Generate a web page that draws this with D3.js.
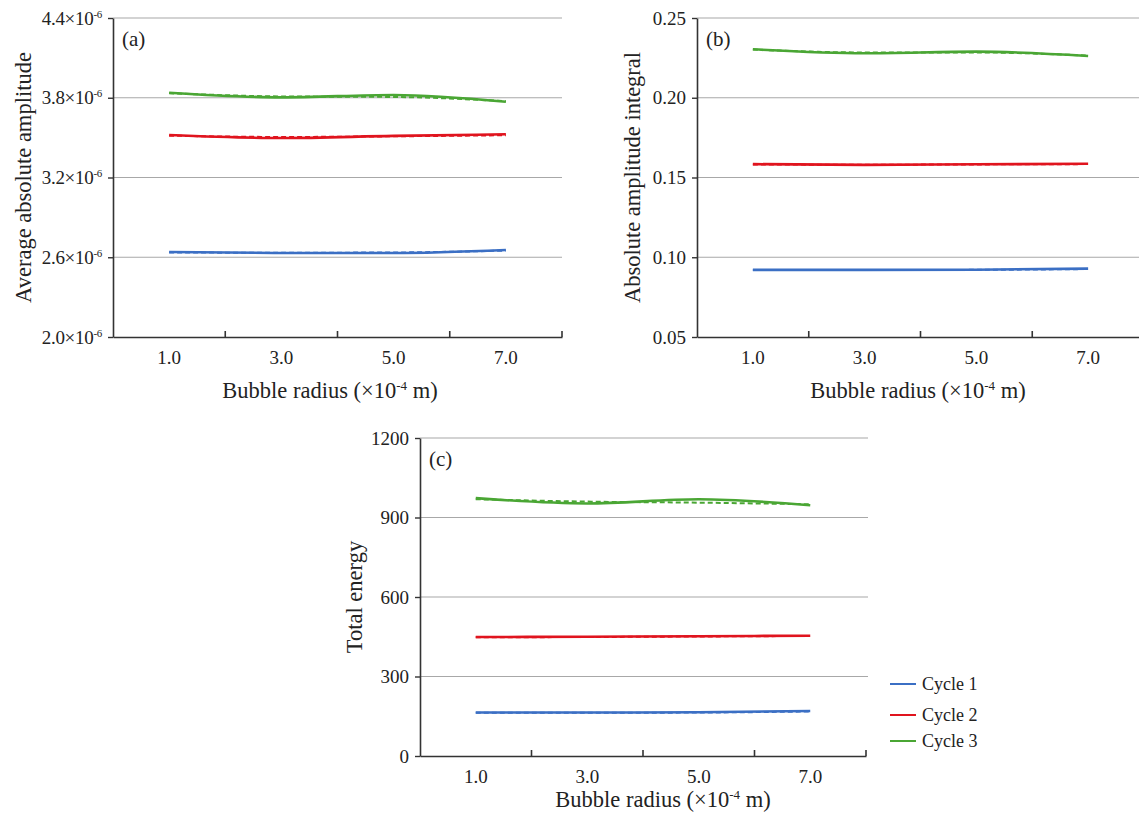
<!DOCTYPE html>
<html><head><meta charset="utf-8">
<script src="https://cdn.jsdelivr.net/npm/d3@7"></script>
<style>
body{margin:0;background:#fff}
text{font-family:"Liberation Serif","Times New Roman",serif;fill:#222}
</style>
</head><body><svg id="chart" width="1139" height="816"></svg>
<script>
const categories = ["1.0","3.0","5.0","7.0"];
const seriesNames = ["Cycle 1","Cycle 2","Cycle 3"];
const seriesColors = ["#3b6fc4","#e0141e","#4aa634"];

// Panel (a): average absolute amplitude, ×10^-6
const ampTicks = [2.0, 2.6, 3.2, 3.8, 4.4];
const ampCycle1 = [2.640, 2.632, 2.632, 2.655];
const ampCycle2 = [3.520, 3.497, 3.513, 3.525];
const ampCycle3 = [3.838, 3.803, 3.821, 3.770];
const ampCycle1Dash = [2.636, 2.634, 2.636, 2.650];
const ampCycle2Dash = [3.515, 3.505, 3.510, 3.518];
const ampCycle3Dash = [3.834, 3.810, 3.806, 3.774];

// Panel (b): absolute amplitude integral
const intTicks = [0.05, 0.10, 0.15, 0.20, 0.25];
const intCycle1 = [0.0921, 0.0921, 0.0922, 0.0929];
const intCycle2 = [0.1584, 0.1579, 0.1583, 0.1586];
const intCycle3 = [0.2304, 0.2279, 0.2289, 0.2262];
const intCycle1Dash = [0.0920, 0.0920, 0.0921, 0.0926];
const intCycle2Dash = [0.1582, 0.1580, 0.1582, 0.1584];
const intCycle3Dash = [0.2302, 0.2284, 0.2284, 0.2264];

// Panel (c): total energy
const energyTicks = [0, 300, 600, 900, 1200];
const energyCycle1 = [164, 164, 165, 170];
const energyCycle2 = [449, 450, 452, 454];
const energyCycle3 = [973, 953, 969, 946];
const energyCycle1Dash = [163, 163, 164, 168];
const energyCycle2Dash = [448, 449, 451, 453];
const energyCycle3Dash = [969, 960, 956, 950];

const svg = d3.select("#chart");

function addSup(sel, main, sup, tail, supSize, rise){
  sel.text(null);
  sel.append("tspan").text(main);
  sel.append("tspan").attr("dy", -rise).attr("font-size", supSize).text(sup);
  if (tail) sel.append("tspan").attr("dy", rise).text(tail);
}

function drawPanel(cfg){
  const g = svg.append("g");
  const x = d3.scaleBand().domain(categories).range([cfg.x0, cfg.x1]).padding(0);
  const y = d3.scaleLinear().domain([cfg.ticks[0], cfg.ticks[cfg.ticks.length-1]]).range([cfg.yb, cfg.yt]);

  // gridlines
  g.append("g").selectAll("line").data(cfg.ticks.slice(1)).join("line")
    .attr("x1", cfg.x0).attr("x2", cfg.gridEnd)
    .attr("y1", d => y(d)).attr("y2", d => y(d))
    .attr("stroke", "#a8a8a8").attr("stroke-width", 1.2);

  // y axis
  const ya = g.append("g").attr("transform", `translate(${cfg.x0},0)`)
    .call(d3.axisLeft(y).tickValues(cfg.ticks).tickSize(5).tickSizeOuter(0).tickPadding(6).tickFormat(cfg.fmt));
  ya.select(".domain").attr("stroke", "#333").attr("stroke-width", 1.6);
  ya.selectAll(".tick line").attr("stroke", "#333").attr("stroke-width", 1.4);
  ya.selectAll(".tick text").attr("font-size", 19).attr("fill", "#222")
    .attr("font-family", '"Liberation Serif",serif');
  if (cfg.sup) {
    ya.selectAll(".tick text").attr("letter-spacing", -0.3).each(function(d){
      addSup(d3.select(this), cfg.fmt(d) + "\u00d710", "-6", null, 11, 7);
    });
  }

  // x axis
  const xa = g.append("g").attr("transform", `translate(0,${cfg.yb})`)
    .call(d3.axisBottom(x).tickSize(0).tickPadding(14));
  xa.select(".domain").attr("stroke", "#333").attr("stroke-width", 1.6);
  xa.selectAll(".tick text").attr("font-size", 19).attr("fill", "#222")
    .attr("font-family", '"Liberation Serif",serif');
  // category boundary ticks (inward)
  const bounds = categories.slice(1).map(c => x(c)).concat([cfg.x1]);
  g.append("g").selectAll("line").data(bounds).join("line")
    .attr("x1", d => d).attr("x2", d => d)
    .attr("y1", cfg.yb).attr("y2", cfg.yb - 6)
    .attr("stroke", "#333").attr("stroke-width", 1.6);

  // lines
  const line = d3.line().x((d,i) => x(categories[i]) + x.bandwidth()/2).y(d => y(d)).curve(d3.curveMonotoneX);
  cfg.dashed.forEach((s,i) => {
    g.append("path").attr("d", line(s)).attr("fill","none")
      .attr("stroke", seriesColors[i]).attr("stroke-width", 2).attr("stroke-dasharray","5,3");
  });
  cfg.series.forEach((s,i) => {
    g.append("path").attr("d", line(s)).attr("fill","none")
      .attr("stroke", seriesColors[i]).attr("stroke-width", 2.6).attr("stroke-linecap","butt");
  });

  // panel label
  g.append("text").attr("x", cfg.x0 + 9).attr("y", cfg.yt + 28).attr("font-size", 21).text(cfg.label);

  // axis titles
  const xt = g.append("text").attr("x", cfg.xTitleX).attr("y", cfg.xTitleY)
    .attr("text-anchor","middle").attr("font-size", 22.5);
  addSup(xt, "Bubble radius (\u00d710", "-4", " m)", 13, 8);
  g.append("text").attr("transform", `translate(${cfg.yTitleX},${(cfg.yt+cfg.yb)/2}) rotate(-90)`)
    .attr("text-anchor","middle").attr("font-size", 22.5).text(cfg.yTitle);
}

drawPanel({x0:113, x1:562, gridEnd:562, yt:18, yb:337, ticks:ampTicks,
  fmt:d3.format(".1f"), sup:true,
  series:[ampCycle1, ampCycle2, ampCycle3], dashed:[ampCycle1Dash, ampCycle2Dash, ampCycle3Dash],
  label:"(a)", xTitleX:330, xTitleY:398, yTitleX:31, yTitle:"Average absolute amplitude"});

drawPanel({x0:697, x1:1144, gridEnd:1139, yt:18, yb:337, ticks:intTicks,
  fmt:d3.format(".2f"), sup:false,
  series:[intCycle1, intCycle2, intCycle3], dashed:[intCycle1Dash, intCycle2Dash, intCycle3Dash],
  label:"(b)", xTitleX:918, xTitleY:398, yTitleX:640, yTitle:"Absolute amplitude integral"});

drawPanel({x0:420, x1:866, gridEnd:868, yt:438, yb:756, ticks:energyTicks,
  fmt:d3.format("d"), sup:false,
  series:[energyCycle1, energyCycle2, energyCycle3], dashed:[energyCycle1Dash, energyCycle2Dash, energyCycle3Dash],
  label:"(c)", xTitleX:663, xTitleY:807, yTitleX:362, yTitle:"Total energy"});

// legend
const legend = svg.append("g").selectAll("g").data(seriesNames).join("g")
  .attr("transform", (d,i) => `translate(890,${[684,715,741][i]})`);
legend.append("line").attr("x1",0).attr("x2",26).attr("y1",0).attr("y2",0)
  .attr("stroke",(d,i)=>seriesColors[i]).attr("stroke-width",2);
legend.append("text").attr("x",32).attr("y",6).attr("font-size",18).text(d=>d);
</script>
</body></html>
